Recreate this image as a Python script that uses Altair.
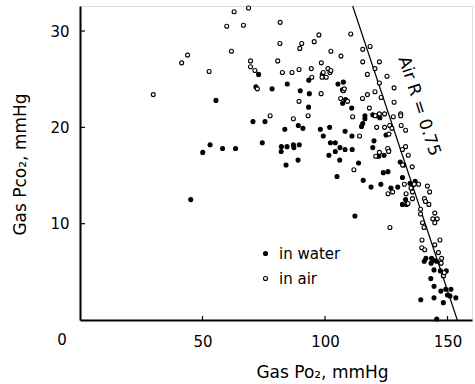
import altair as alt
import pandas as pd

# (Gas PO2, Gas PCO2) pairs, mmHg
water_points = [
    (45.2, 12.5), (50.1, 17.4), (53.1, 18.2), (55.5, 22.8), (58.2, 17.8), (63.5, 17.8),
    (70.6, 20.6), (71.8, 24.2), (72.9, 25.5), (74.4, 18.4), (75.5, 20.6), (78.4, 24.0),
    (82.2, 18.0), (82.1, 17.5), (83.6, 19.8), (84.1, 16.1), (84.5, 18.0), (84.6, 24.5),
    (87.1, 18.2), (87.3, 17.9), (89.1, 20.2), (89.0, 16.6), (89.5, 18.2), (89.9, 23.8),
    (91.0, 19.9), (93.4, 24.9), (93.6, 23.5), (93.3, 22.1), (98.1, 19.8), (98.9, 25.5),
    (99.3, 19.1), (101.9, 20.0), (102.2, 18.4), (104.2, 18.4), (104.2, 17.5), (101.6, 17.1),
    (105.3, 24.5), (107.5, 24.7), (107.1, 23.9), (108.4, 22.9), (107.2, 22.5), (106.0, 16.6),
    (106.1, 17.9), (108.2, 17.7), (111.1, 17.7), (108.2, 19.6), (110.9, 22.0), (111.0, 19.1),
    (104.9, 14.9), (113.7, 16.3), (112.2, 10.8), (115.6, 14.5), (116.3, 21.2), (116.3, 20.9),
    (115.4, 20.4), (114.9, 20.1), (119.5, 21.3), (121.4, 21.2), (122.4, 21.0), (124.9, 19.2),
    (120.0, 18.6), (119.5, 17.9), (124.1, 17.1), (121.9, 17.0), (126.0, 17.6), (123.8, 15.3),
    (125.7, 15.4), (118.8, 13.8), (122.8, 14.1), (126.9, 13.7), (129.7, 13.8), (130.7, 16.4),
    (132.1, 16.1), (131.6, 14.8), (134.7, 14.2), (135.8, 14.0), (136.8, 14.4), (131.6, 12.0),
    (132.9, 12.5), (133.3, 12.0), (140.5, 6.1), (141.2, 6.4), (143.5, 6.4), (144.4, 6.2),
    (143.3, 5.9), (145.6, 6.1), (144.5, 5.2), (147.1, 5.1), (149.5, 5.1), (148.3, 4.6),
    (143.2, 4.3), (144.5, 3.5), (147.3, 3.0), (149.3, 3.2), (151.4, 3.2), (150.0, 2.6),
    (151.0, 2.5), (153.4, 2.3), (139.1, 2.1), (144.5, 2.3), (148.3, 1.8), (145.6, 0.1),
]

air_points = [
    (29.9, 23.4), (41.5, 26.7), (43.9, 27.5), (52.7, 25.8), (59.9, 30.5), (61.8, 27.9),
    (62.9, 32.0), (66.7, 30.6), (68.8, 32.4), (69.6, 26.9), (69.6, 26.3), (71.4, 25.9),
    (72.4, 24.0), (77.6, 21.2), (80.7, 26.9), (81.7, 30.9), (81.6, 28.7), (82.6, 25.7),
    (86.5, 25.7), (87.1, 20.9), (89.4, 26.0), (89.4, 22.7), (89.7, 28.2), (90.5, 28.7),
    (93.1, 21.2), (94.4, 26.1), (94.6, 25.2), (95.6, 28.9), (97.5, 29.6), (98.5, 26.7),
    (98.4, 23.5), (98.8, 25.2), (99.3, 25.7), (100.5, 25.2), (101.2, 26.1), (102.0, 25.7),
    (102.4, 25.9), (102.4, 27.9), (106.4, 23.0), (106.5, 27.4), (107.5, 23.8), (107.9, 24.0),
    (109.2, 22.7), (110.5, 29.7), (111.3, 21.1), (111.8, 15.6), (114.1, 19.1), (115.4, 28.1),
    (115.4, 26.8), (115.3, 23.0), (117.3, 25.5), (117.3, 23.4), (118.1, 22.0), (118.4, 28.4),
    (120.4, 23.7), (120.4, 26.1), (121.1, 20.0), (122.2, 26.8), (122.2, 24.6), (122.2, 17.4),
    (120.7, 17.0), (122.2, 21.4), (120.5, 21.2), (122.9, 23.1), (124.3, 21.4), (124.3, 20.0),
    (125.3, 25.3), (125.6, 17.8), (126.0, 17.5), (126.1, 19.3), (126.4, 20.2), (127.3, 19.9),
    (127.9, 21.1), (128.2, 24.1), (128.2, 22.6), (130.9, 21.4), (130.9, 21.2), (131.1, 20.2),
    (131.6, 17.7), (131.7, 16.1), (132.9, 19.7), (132.9, 18.0), (134.0, 17.1), (135.6, 15.9),
    (132.4, 14.1), (125.7, 13.1), (127.6, 13.3), (133.1, 13.1), (135.1, 13.7), (135.7, 13.3),
    (135.7, 12.6), (136.4, 14.1), (138.2, 14.1), (140.6, 12.6), (141.0, 12.3), (141.8, 13.9),
    (142.7, 13.3), (142.4, 12.0), (133.9, 12.1), (126.5, 9.6), (139.0, 11.5), (139.0, 11.0),
    (139.8, 10.1), (140.4, 9.6), (144.8, 11.1), (144.0, 10.5), (145.8, 10.5), (144.8, 10.1),
    (139.6, 8.3), (139.5, 7.5), (140.7, 7.3), (146.9, 8.3), (144.8, 7.8), (146.3, 7.0),
    (147.6, 6.4), (147.4, 5.9), (148.4, 4.6), (148.7, 4.9),
]

# Air R = 0.75 line end points
r_line_po2 = [154.0, 111.3]
r_line_pco2 = [0.0, 32.6]

x_ticks = [50, 100, 150]
y_ticks = [10, 20, 30]
series_names = ["in water", "in air"]
line_label = ["Air R = 0.75"]
line_label_po2 = [138.4]
line_label_pco2 = [22.2]
origin_label = ["0"]

FONT = "DejaVu Sans"

rows = [{"po2": x, "pco2": y, "group": "in water"} for x, y in water_points]
rows += [{"po2": x, "pco2": y, "group": "in air"} for x, y in air_points]
df = pd.DataFrame(rows)

xs = alt.Scale(domain=[0, 160], nice=False, zero=False)
ys = alt.Scale(domain=[0, 32.6], nice=False, zero=False)

x_axis = alt.Axis(
    values=x_ticks, title="Gas Po₂, mmHg", ticks=False, tickSize=0, grid=False,
    domainColor="black", domainWidth=2, labelFont=FONT, labelFontSize=15,
    labelColor="black", labelPadding=14, labelBaseline="top",
    titleFont=FONT, titleFontSize=17, titleFontWeight="normal", titleColor="black",
    titleX=242, titleY=57, titleBaseline="alphabetic", titleAnchor="middle",
)
y_axis = alt.Axis(
    values=y_ticks, title="Gas Pco₂, mmHg", ticks=False, tickSize=0, grid=False,
    domainColor="black", domainWidth=2, labelFont=FONT, labelFontSize=15,
    labelColor="black", labelPadding=11,
    titleFont=FONT, titleFontSize=17, titleFontWeight="normal", titleColor="black",
    titleX=-51, titleY=158, titleAnchor="middle",
)

points = alt.Chart(df).mark_circle(stroke="black", strokeWidth=1.1, size=16, opacity=1).encode(
    x=alt.X("po2:Q", scale=xs, axis=x_axis),
    y=alt.Y("pco2:Q", scale=ys, axis=y_axis),
    fill=alt.Fill(
        "group:N",
        scale=alt.Scale(domain=series_names, range=["black", "white"]),
        legend=alt.Legend(
            title=None, orient="none", legendX=178, legendY=240,
            labelFont=FONT, labelFontSize=15, labelColor="black",
            symbolType="circle", symbolSize=16, symbolStrokeColor="black",
            symbolStrokeWidth=1.1, symbolOpacity=1, rowPadding=9, labelOffset=6,
        ),
    ),
)

line_df = pd.DataFrame({"po2": r_line_po2, "pco2": r_line_pco2})
r_line = alt.Chart(line_df).mark_line(color="black", strokeWidth=1.2).encode(
    x=alt.X("po2:Q", scale=xs), y=alt.Y("pco2:Q", scale=ys)
)

label_df = pd.DataFrame({"po2": line_label_po2, "pco2": line_label_pco2, "text": line_label})
r_text = alt.Chart(label_df).mark_text(
    angle=72, font=FONT, fontSize=17, align="center", baseline="middle", color="black"
).encode(x=alt.X("po2:Q", scale=xs), y=alt.Y("pco2:Q", scale=ys), text="text:N")

xt_df = pd.DataFrame({"v": x_ticks})
x_tick_marks = alt.Chart(xt_df).mark_rule(color="black", strokeWidth=1.2).encode(
    x=alt.X("v:Q", scale=xs), y=alt.value(314), y2=alt.value(310)
)
yt_df = pd.DataFrame({"v": y_ticks})
y_tick_marks = alt.Chart(yt_df).mark_rule(color="black", strokeWidth=1.2).encode(
    y=alt.Y("v:Q", scale=ys), x=alt.value(0), x2=alt.value(5)
)

origin_df = pd.DataFrame({"po2": [0], "pco2": [0], "text": origin_label})
origin_text = alt.Chart(origin_df).mark_text(
    font=FONT, fontSize=15, dx=-18, dy=20, align="center", baseline="middle", color="black"
).encode(x=alt.X("po2:Q", scale=xs), y=alt.Y("pco2:Q", scale=ys), text="text:N")

chart = alt.layer(
    r_line, points, r_text, x_tick_marks, y_tick_marks, origin_text
).properties(
    width=392, height=314,
    autosize=alt.AutoSizeParams(type="none"),
    padding={"left": 80, "top": 6, "right": 3, "bottom": 64},
).configure_view(stroke=None).configure(background="white")

chart.save("out.html", embed_options={"renderer": "svg", "actions": False})
